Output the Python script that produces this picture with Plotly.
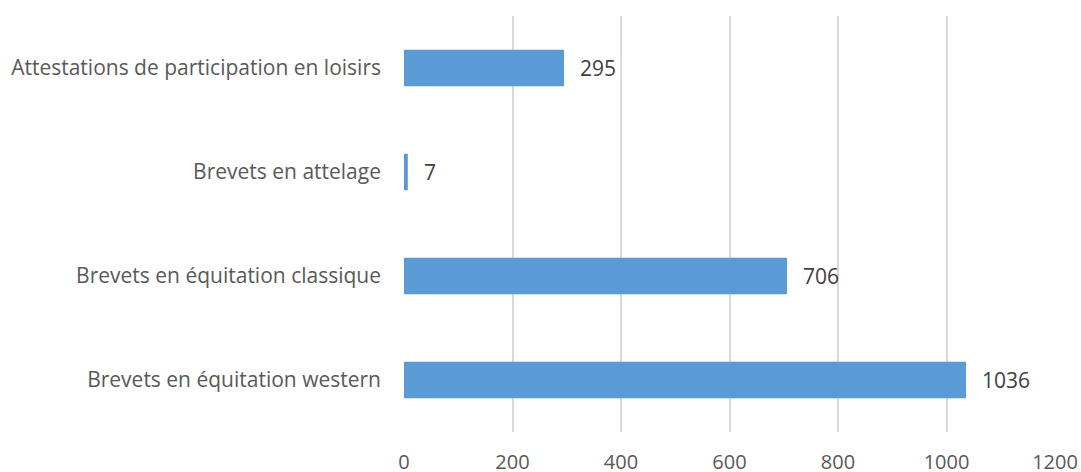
import plotly.graph_objects as go

categories = ["Brevets en équitation western", "Brevets en équitation classique",
              "Brevets en attelage", "Attestations de participation en loisirs"]
values = [1036, 706, 7, 295]
x_ticks = [0, 200, 400, 600, 800, 1000, 1200]

FONT = "Open Sans"
fig = go.Figure()
fig.add_trace(go.Bar(
    y=categories, x=values, orientation="h",
    marker=dict(color="#5B9BD5", line=dict(width=0)),
    width=0.35, hoverinfo="skip",
))
for c, v in zip(categories, values):
    fig.add_annotation(x=v, y=c, text=str(v), showarrow=False, xanchor="left",
                       xshift=14, font=dict(family=FONT, size=21, color="#404040"))

fig.update_layout(
    width=1081, height=472,
    margin=dict(l=404, r=26, t=16, b=40, autoexpand=False),
    plot_bgcolor="white", paper_bgcolor="white",
    showlegend=False,
    font=dict(family=FONT, size=20, color="#595959"),
    xaxis=dict(range=[0, 1200], tickvals=x_ticks, showgrid=True, gridcolor="#D9D9D9",
               gridwidth=1.5, zeroline=False, showline=False, ticks="", automargin=False,
               ticklabelstandoff=16, tickfont=dict(size=20, color="#595959")),
    yaxis=dict(categoryorder="array", categoryarray=categories, showgrid=False,
               zeroline=False, showline=False, ticks="", automargin=False,
               ticklabelstandoff=22, tickfont=dict(size=21, color="#595959")),
)
fig.write_html("out.html", config={"displayModeBar": False},
               post_script="document.body.style.margin='0';document.body.style.overflow='hidden';")
